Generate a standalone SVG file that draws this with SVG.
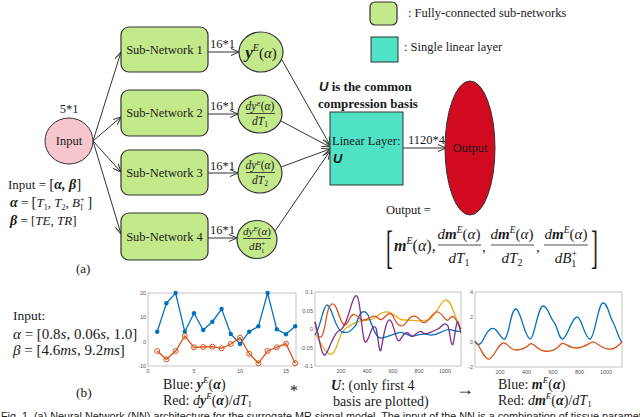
<svg xmlns="http://www.w3.org/2000/svg" width="640" height="417" viewBox="0 0 640 417">
<style>
text{font-family:"Liberation Serif","Times New Roman",serif;fill:#1a1a1a}
.sans{font-family:"Liberation Sans",Arial,sans-serif}
.lbl{font-size:12.5px}
.it{font-style:italic}
.bi{font-style:italic;font-weight:bold}
.conn{stroke:#333;stroke-width:1;fill:none;marker-end:url(#arr)}
.green{fill:#c3e98b;stroke:#333;stroke-width:1.2}
.teal{fill:#4fe2c5;stroke:#333;stroke-width:1}
.axis{fill:#fff;stroke:#9a9a9a;stroke-width:0.6}
.tk{font-family:"Liberation Sans",Arial,sans-serif;font-size:5.5px;fill:#555}
.bl{stroke:#0072bd;stroke-width:1.3;fill:none}
.rd{stroke:#d95319;stroke-width:1.3;fill:none}
.yl{stroke:#edb120;stroke-width:1.3;fill:none}
.pu{stroke:#7e2f8e;stroke-width:1.3;fill:none}
.frac{stroke:#222;stroke-width:0.8}
</style>
<defs>
<marker id="arr" markerUnits="userSpaceOnUse" markerWidth="9" markerHeight="8" refX="8" refY="4" orient="auto">
<path d="M0,0.5 L8,4 L0,7.5" fill="none" stroke="#333" stroke-width="1"/>
</marker>
</defs>
<rect width="640" height="417" fill="#fff"/>

<!-- legend -->
<g id="legend-fc">
<rect x="370" y="2" width="27" height="23" rx="5" class="green"/>
<text x="408" y="17" class="lbl">: Fully-connected sub-networks</text>
</g>
<g id="legend-linear">
<rect x="371" y="37" width="27" height="25" class="teal"/>
<text x="404" y="51" class="lbl">: Single linear layer</text>
</g>

<!-- connectors -->
<g id="connectors">
<line x1="93" y1="141" x2="121" y2="52" class="conn"/>
<line x1="93" y1="141" x2="121" y2="117" class="conn"/>
<line x1="93" y1="141" x2="121" y2="172" class="conn"/>
<line x1="93" y1="141" x2="121" y2="234" class="conn"/>
<line x1="208" y1="52" x2="239" y2="52" class="conn" stroke-width="2"/>
<line x1="208" y1="114" x2="238" y2="114" class="conn"/>
<line x1="208" y1="173" x2="238" y2="173" class="conn"/>
<line x1="208" y1="238" x2="237" y2="238" class="conn"/>
<line x1="282" y1="60" x2="330" y2="145" class="conn"/>
<line x1="281" y1="121" x2="330" y2="147" class="conn"/>
<line x1="281" y1="167" x2="330" y2="149" class="conn"/>
<line x1="275" y1="231" x2="330" y2="151" class="conn"/>
<line x1="403" y1="148" x2="446" y2="148" class="conn"/>
</g>

<!-- input -->
<g id="input">
<ellipse cx="69" cy="141" rx="24" ry="23" fill="#f6c5ce" stroke="#333" stroke-width="1"/>
<text x="69" y="145" text-anchor="middle" class="lbl">Input</text>
<text x="69" y="113" text-anchor="middle" class="lbl">5*1</text>
</g>

<!-- sub networks -->
<g id="sub1"><rect x="121" y="27" width="87" height="45" rx="8" class="green"/><text x="164.5" y="54" text-anchor="middle" class="lbl">Sub-Network 1</text></g>
<g id="sub2"><rect x="121" y="90" width="87" height="46" rx="8" class="green"/><text x="164.5" y="117" text-anchor="middle" class="lbl">Sub-Network 2</text></g>
<g id="sub3"><rect x="121" y="150" width="87" height="45" rx="8" class="green"/><text x="164.5" y="177" text-anchor="middle" class="lbl">Sub-Network 3</text></g>
<g id="sub4"><rect x="121" y="213" width="87" height="47" rx="8" class="green"/><text x="164.5" y="241" text-anchor="middle" class="lbl">Sub-Network 4</text></g>

<g id="dims">
<text x="210" y="48" class="lbl">16*1</text>
<text x="210" y="110" class="lbl">16*1</text>
<text x="210" y="170" class="lbl">16*1</text>
<text x="210" y="234" class="lbl">16*1</text>
</g>

<!-- outputs of subnetworks -->
<g id="out1">
<ellipse cx="261" cy="52" rx="22" ry="20" class="green"/>
<text x="261" y="58" text-anchor="middle"><tspan class="bi" font-size="17">y</tspan><tspan class="it" font-size="10" dy="-7">E</tspan><tspan font-size="15" dy="7">(</tspan><tspan class="it" font-size="15">α</tspan><tspan font-size="15">)</tspan></text>
</g>
<g id="out2">
<ellipse cx="260" cy="114" rx="22" ry="19" class="green"/>
<text x="260" y="110" text-anchor="middle" font-size="11.5"><tspan class="it">dy</tspan><tspan class="it" font-size="7" dy="-4">E</tspan><tspan dy="4">(</tspan><tspan class="it">α</tspan>)</text>
<line x1="246" y1="113.5" x2="275" y2="113.5" class="frac"/>
<text x="260" y="125" text-anchor="middle" font-size="11.5"><tspan class="it">dT</tspan><tspan font-size="7.5" dy="2">1</tspan></text>
</g>
<g id="out3">
<ellipse cx="260" cy="173" rx="22" ry="20" class="green"/>
<text x="260" y="169" text-anchor="middle" font-size="11.5"><tspan class="it">dy</tspan><tspan class="it" font-size="7" dy="-4">E</tspan><tspan dy="4">(</tspan><tspan class="it">α</tspan>)</text>
<line x1="246" y1="172.5" x2="275" y2="172.5" class="frac"/>
<text x="260" y="184" text-anchor="middle" font-size="11.5"><tspan class="it">dT</tspan><tspan font-size="7.5" dy="2">2</tspan></text>
</g>
<g id="out4">
<ellipse cx="257" cy="239.5" rx="20" ry="19" class="green"/>
<text x="257" y="235" text-anchor="middle" font-size="11"><tspan class="it">dy</tspan><tspan class="it" font-size="7" dy="-4">E</tspan><tspan dy="4">(</tspan><tspan class="it">α</tspan>)</text>
<line x1="243" y1="238.5" x2="271" y2="238.5" class="frac"/>
<text x="257" y="250" text-anchor="middle" font-size="11"><tspan class="it">dB</tspan><tspan font-size="7" dy="-4">+</tspan><tspan font-size="7" dx="-4" dy="7">1</tspan></text>
</g>

<!-- linear layer -->
<g id="linear">
<rect x="330" y="112" width="73" height="73" class="teal"/>
<text x="332" y="145" class="lbl">Linear Layer:</text>
<text x="333" y="163" class="sans" font-style="italic" font-weight="bold" font-size="13">U</text>
</g>
<g id="note">
<text x="319" y="91" font-size="13" font-weight="bold"><tspan class="sans" font-style="italic">U</tspan>  is the common</text>
<text x="318" y="108" font-size="13" font-weight="bold">compression basis</text>
<text x="408" y="144" class="lbl">1120*4</text>
</g>

<!-- output -->
<g id="output">
<ellipse cx="470" cy="148" rx="25" ry="67" fill="#d20a1f" stroke="#333" stroke-width="1"/>
<text x="470" y="152" text-anchor="middle" class="lbl" fill="#3a0505">Output</text>
</g>

<g id="output-formula">
<text x="386" y="214" class="lbl">Output =</text>
<text x="386" y="263" font-size="46" transform="translate(386,263) scale(0.45,1) translate(-386,-263)">[</text>
<text x="394" y="251" font-size="16"><tspan class="bi">m</tspan><tspan class="it" font-size="10" dy="-7">E</tspan><tspan dy="7">(</tspan><tspan class="it">α</tspan>),</text>
<text x="459" y="239" text-anchor="middle" font-size="15"><tspan class="it">d</tspan><tspan class="bi">m</tspan><tspan class="it" font-size="9.5" dy="-6">E</tspan><tspan dy="6">(</tspan><tspan class="it">α</tspan>)</text>
<line x1="438" y1="245" x2="481" y2="245" class="frac"/>
<text x="459" y="263" text-anchor="middle" font-size="15"><tspan class="it">dT</tspan><tspan font-size="10" dy="3">1</tspan></text>
<text x="482" y="252" font-size="15">,</text>
<text x="512" y="239" text-anchor="middle" font-size="15"><tspan class="it">d</tspan><tspan class="bi">m</tspan><tspan class="it" font-size="9.5" dy="-6">E</tspan><tspan dy="6">(</tspan><tspan class="it">α</tspan>)</text>
<line x1="491" y1="245" x2="534" y2="245" class="frac"/>
<text x="512" y="263" text-anchor="middle" font-size="15"><tspan class="it">dT</tspan><tspan font-size="10" dy="3">2</tspan></text>
<text x="536" y="252" font-size="15">,</text>
<text x="566" y="239" text-anchor="middle" font-size="15"><tspan class="it">d</tspan><tspan class="bi">m</tspan><tspan class="it" font-size="9.5" dy="-6">E</tspan><tspan dy="6">(</tspan><tspan class="it">α</tspan>)</text>
<line x1="544" y1="245" x2="588" y2="245" class="frac"/>
<text x="566" y="263" text-anchor="middle" font-size="15"><tspan class="it">dB</tspan><tspan font-size="10" dy="-6">+</tspan><tspan font-size="10" dx="-6" dy="10">1</tspan></text>
<text x="591" y="263" font-size="46" transform="translate(591,263) scale(0.45,1) translate(-591,-263)">]</text>
</g>

<!-- left definitions -->
<g id="defs-text">
<text x="8" y="189" font-size="13">Input = <tspan font-size="15">[</tspan><tspan class="bi" font-size="14">α, β</tspan><tspan font-size="15">]</tspan></text>
<text x="10" y="207" font-size="13"><tspan class="bi" font-size="14">α</tspan> = <tspan font-size="15">[</tspan><tspan class="it">T</tspan><tspan font-size="8" dy="3">1</tspan><tspan dy="-3">, </tspan><tspan class="it">T</tspan><tspan font-size="8" dy="3">2</tspan><tspan dy="-3">, </tspan><tspan class="it">B</tspan><tspan font-size="8" dy="-5">+</tspan><tspan font-size="8" dx="-5" dy="8">1</tspan><tspan font-size="15" dy="-3"> ]</tspan></text>
<text x="10" y="225" font-size="13"><tspan class="bi" font-size="14">β</tspan> = [<tspan class="it">TE</tspan>, <tspan class="it">TR</tspan>]</text>
<text x="76" y="273" font-size="13">(a)</text>
</g>

<!-- part (b) -->
<g id="b-input">
<text x="13" y="320" font-size="13.5">Input:</text>
<text x="13" y="339" font-size="15"><tspan class="it">α</tspan> = [0.8<tspan class="it">s</tspan>, 0.06<tspan class="it">s</tspan>, 1.0]</text>
<text x="13" y="355" font-size="15"><tspan class="it">β</tspan> = [4.6<tspan class="it">ms</tspan>, 9.2<tspan class="it">ms</tspan>]</text>
<text x="76" y="397" font-size="13.5">(b)</text>
</g>

<!-- plot 1 -->
<g id="plot1">
<rect x="148" y="293" width="148" height="73" class="axis"/>
<text class="tk" x="146" y="295" text-anchor="end">20</text>
<text class="tk" x="146" y="319" text-anchor="end">10</text>
<text class="tk" x="146" y="344" text-anchor="end">0</text>
<text class="tk" x="146" y="368" text-anchor="end">-10</text>
<text class="tk" x="148" y="373" text-anchor="middle">0</text>
<text class="tk" x="194" y="373" text-anchor="middle">5</text>
<text class="tk" x="240" y="373" text-anchor="middle">10</text>
<text class="tk" x="286" y="373" text-anchor="middle">15</text>
<polyline class="bl" points="157.2,331.7 166.4,303.3 175.6,293 184.8,331.7 194,313.3 203.2,330 212.4,321.7 221.6,309 230.8,334 240,344 249.2,331.7 258.4,326.3 267.6,293 276.8,329.3 286,334.3 295.2,326.3"/>
<polyline class="rd" points="157.2,351 166.4,359.3 175.6,351 184.8,336 194,347.3 203.2,347 212.4,346.7 221.6,348.3 230.8,344 240,337.7 249.2,353.7 258.4,363.3 267.6,351 276.8,347.3 286,343.7 295.2,363.3"/>
<g fill="#0072bd">
<circle cx="157.2" cy="331.7" r="2.2"/><circle cx="166.4" cy="303.3" r="2.2"/><circle cx="175.6" cy="293" r="2.2"/><circle cx="184.8" cy="331.7" r="2.2"/><circle cx="194" cy="313.3" r="2.2"/><circle cx="203.2" cy="330" r="2.2"/><circle cx="212.4" cy="321.7" r="2.2"/><circle cx="221.6" cy="309" r="2.2"/><circle cx="230.8" cy="334" r="2.2"/><circle cx="240" cy="344" r="2.2"/><circle cx="249.2" cy="331.7" r="2.2"/><circle cx="258.4" cy="326.3" r="2.2"/><circle cx="267.6" cy="293" r="2.2"/><circle cx="276.8" cy="329.3" r="2.2"/><circle cx="286" cy="334.3" r="2.2"/><circle cx="295.2" cy="326.3" r="2.2"/>
</g>
<g fill="none" stroke="#d95319" stroke-width="1">
<circle cx="157.2" cy="351" r="2.5"/><circle cx="166.4" cy="359.3" r="2.5"/><circle cx="175.6" cy="351" r="2.5"/><circle cx="184.8" cy="336" r="2.5"/><circle cx="194" cy="347.3" r="2.5"/><circle cx="203.2" cy="347" r="2.5"/><circle cx="212.4" cy="346.7" r="2.5"/><circle cx="221.6" cy="348.3" r="2.5"/><circle cx="230.8" cy="344" r="2.5"/><circle cx="240" cy="337.7" r="2.5"/><circle cx="249.2" cy="353.7" r="2.5"/><circle cx="258.4" cy="363.3" r="2.5"/><circle cx="267.6" cy="351" r="2.5"/><circle cx="276.8" cy="347.3" r="2.5"/><circle cx="286" cy="343.7" r="2.5"/><circle cx="295.2" cy="363.3" r="2.5"/>
</g>
</g>

<!-- plot 2 -->
<g id="plot2">
<rect x="315" y="292" width="146" height="74" class="axis"/>
<text class="tk" x="313" y="294" text-anchor="end">0.1</text>
<text class="tk" x="313" y="313" text-anchor="end">0.05</text>
<text class="tk" x="313" y="331" text-anchor="end">0</text>
<text class="tk" x="313" y="350" text-anchor="end">-0.05</text>
<text class="tk" x="313" y="368" text-anchor="end">-0.1</text>
<text class="tk" x="341" y="373" text-anchor="middle">200</text>
<text class="tk" x="367" y="373" text-anchor="middle">400</text>
<text class="tk" x="393" y="373" text-anchor="middle">600</text>
<text class="tk" x="419" y="373" text-anchor="middle">800</text>
<text class="tk" x="445" y="373" text-anchor="middle">1000</text>
<path class="yl" d="M315,333 C322,345 328,360 334,352 C338,345 340,332 346,328 C352,324 360,320 368,320 C376,320 380,310 388,312 C396,314 398,320 404,320 C412,320 420,322 428,320 C436,318 440,300 446,300 C452,300 456,322 461,329"/>
<path class="bl" d="M315,335 C320,330 323,305 327,305 C332,305 335,330 342,332 C350,334 352,329 356,325 C360,310 364,309 368,315 C372,325 376,340 382,338 C390,336 394,334 398,333 C404,330 408,338 414,336 C420,334 424,333 430,335 C436,336 440,332 446,330 C452,328 456,333 461,331"/>
<path class="rd" d="M315,322 C318,340 322,345 326,320 C329,300 334,300 338,312 C342,325 345,330 350,318 C354,310 358,318 362,320 C368,322 372,312 378,318 C384,325 388,305 394,318 C398,326 402,330 408,320 C414,312 418,318 422,322 C428,326 432,310 438,312 C444,314 446,325 450,318 C455,312 458,326 461,329"/>
<path class="pu" d="M315,322 C318,330 321,357 325,355 C329,352 333,332 340,330 C348,328 352,292 357,296 C361,300 362,345 366,342 C370,338 372,322 376,328 C378,334 379,355 381,350 C383,340 386,318 390,320 C394,322 396,345 400,340 C404,334 406,330 410,335 C414,340 418,328 422,332 C426,336 430,332 436,330 C442,328 444,320 448,326 C450,332 451,348 453,344 C455,338 456,320 458,322 C460,326 460,332 461,333"/>
</g>

<!-- plot 3 -->
<g id="plot3">
<rect x="475" y="292" width="147" height="75" class="axis"/>
<text class="tk" x="473" y="294" text-anchor="end">4</text>
<text class="tk" x="473" y="319" text-anchor="end">2</text>
<text class="tk" x="473" y="344" text-anchor="end">0</text>
<text class="tk" x="473" y="369" text-anchor="end">-2</text>
<text class="tk" x="500" y="374" text-anchor="middle">200</text>
<text class="tk" x="526.5" y="374" text-anchor="middle">400</text>
<text class="tk" x="553" y="374" text-anchor="middle">600</text>
<text class="tk" x="579.5" y="374" text-anchor="middle">800</text>
<text class="tk" x="606" y="374" text-anchor="middle">1000</text>
<path class="bl" d="M475,342 C478,346 481,345 484,338 C488,330 492,326 496,330 C500,334 502,340 505,339 C509,336 511,308 516,309 C521,310 524,336 530,339 C534,340 538,306 543,306 C548,306 550,318 554,322 C558,328 559,340 563,339 C568,336 572,317 577,317 C582,317 584,338 590,339 C595,338 598,303 603,303 C608,303 609,316 613,322 C617,330 619,340 622,342"/>
<path class="rd" d="M475,341 C480,345 484,360 489,359 C494,358 498,344 503,343 C507,342 510,350 516,350 C522,350 526,348 530,344 C533,341 536,350 544,351 C552,352 556,350 561,344 C564,341 568,348 576,348 C584,348 588,344 592,342 C596,341 600,348 608,349 C614,350 618,346 622,342"/>
</g>

<!-- (b) captions -->
<g id="b-labels">
<text x="163" y="389" font-size="14">Blue: <tspan class="bi">y</tspan><tspan class="it" font-size="9" dy="-6">E</tspan><tspan dy="6">(</tspan><tspan class="bi">α</tspan>)</text>
<text x="163" y="405" font-size="14">Red: <tspan class="it">d</tspan><tspan class="bi">y</tspan><tspan class="it" font-size="9" dy="-6">E</tspan><tspan dy="6">(</tspan><tspan class="bi">α</tspan>)/<tspan class="it">dT</tspan><tspan font-size="9" dy="2">1</tspan></text>
<text x="290" y="396" font-size="16">*</text>
<text x="331" y="390" font-size="14"><tspan class="bi">U</tspan>: (only first 4</text>
<text x="333" y="406" font-size="14">basis are plotted)</text>
<text x="456" y="395" font-size="18">→</text>
<text x="498" y="389" font-size="14">Blue: <tspan class="bi">m</tspan><tspan class="it" font-size="9" dy="-6">E</tspan><tspan dy="6">(</tspan><tspan class="bi">α</tspan>)</text>
<text x="498" y="405" font-size="14">Red: <tspan class="it">d</tspan><tspan class="bi">m</tspan><tspan class="it" font-size="9" dy="-6">E</tspan><tspan dy="6">(</tspan><tspan class="bi">α</tspan>)/<tspan class="it">dT</tspan><tspan font-size="9" dy="2">1</tspan></text>
</g>

<text x="1" y="420" class="sans" font-size="10.8" fill="#333">Fig. 1.  (a) Neural Network (NN) architecture for the surrogate MR signal model. The input of the NN is a combination of tissue paramet</text>
</svg>
